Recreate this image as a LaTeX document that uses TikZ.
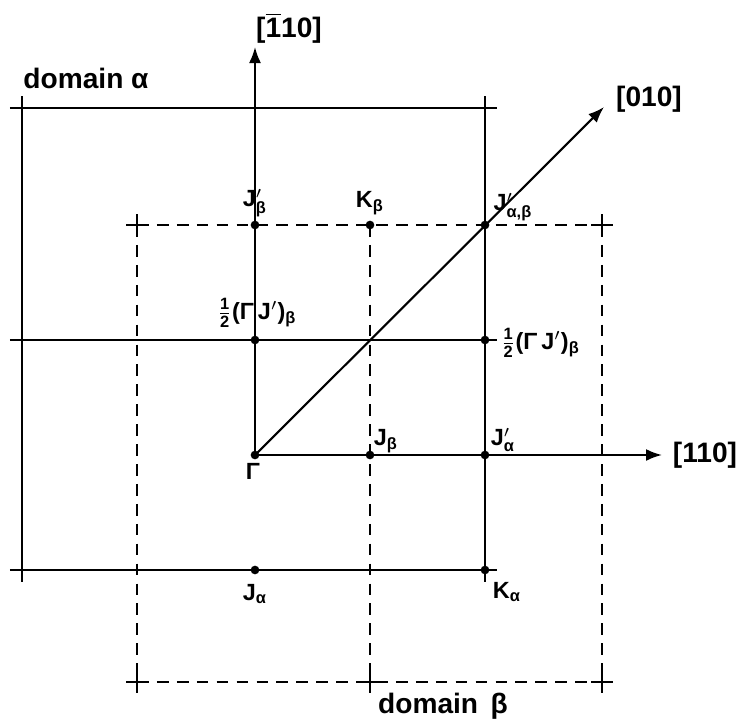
\documentclass[tikz,border=0pt]{standalone}
\usepackage{amsmath}
\usepackage{fontspec}
\setmainfont{Liberation Sans}
\usetikzlibrary{arrows.meta}
\tikzset{
  lbl/.style={font=\bfseries\fontsize{10}{12}\selectfont, inner sep=1pt},
  big/.style={font=\bfseries\fontsize{12}{14}\selectfont, inner sep=1pt},
  dot/.style={circle, fill=black, inner sep=0pt, minimum size=1.3mm},
  solidline/.style={line width=0.9pt},
  ext/.style={solidline, shorten <=-0.18cm, shorten >=-0.18cm},
  dashline/.style={line width=0.9pt, dash pattern=on 5pt off 3.5pt},
  axis/.style={line width=0.9pt, -{Latex[length=2.4mm,width=1.8mm]}},
  plus/.style={line width=0.9pt}
}

\begin{document}
\begin{tikzpicture}[x=0.015cm, y=-0.015cm]
  \useasboundingbox (0,0) rectangle (737,728);

  % Corners of the two domains
  \coordinate (a1) at (22,108);
  \coordinate (a2) at (485,108);
  \coordinate (a3) at (485,570);
  \coordinate (a4) at (22,570);
  \coordinate (m1) at (22,340);
  \coordinate (b1) at (137,225);
  \coordinate (b2) at (602,225);
  \coordinate (b3) at (602,682);
  \coordinate (b4) at (137,682);
  \coordinate (bm) at (370,682);
  \coordinate (ytip) at (255,47);
  \coordinate (xtip) at (662,455);
  \coordinate (dtip) at (604,107);

  % Points
  \node[dot] (Jpb) at (255,225) {};
  \node[dot] (Kb) at (370,225) {};
  \node[dot] (Jpab) at (485,225) {};
  \node[dot] (hl) at (255,340) {};
  \node[dot] (hr) at (485,340) {};
  \node[dot] (G) at (255,455) {};
  \node[dot] (Jb) at (370,455) {};
  \node[dot] (Jpa) at (485,455) {};
  \node[dot] (Ja) at (255,570) {};
  \node[dot] (Ka) at (485,570) {};

  % Domain alpha (solid)
  \draw[ext] (a1) -- (a2);
  \draw[ext] (a1) -- (a4);
  \draw[ext] (a4) -- (a3);
  \draw[ext] (a2) -- (a3);
  \draw[ext] (m1) -- (hr.center);

  % Domain beta (dashed)
  \draw[dashline] (b1) -- (b2);
  \draw[dashline] (b2) -- (b3);
  \draw[dashline] (b4) -- (b3);
  \draw[dashline] (b1) -- (b4);
  \draw[dashline] (Kb.center) -- (bm);
  \foreach \c in {b1,b2,b3,b4,bm}
    \draw[plus] (\c) +(-11,0) -- +(11,0) (\c) +(0,-11) -- +(0,11);

  % Axes
  \draw[axis] (G.center) -- (ytip);
  \draw[axis] (G.center) -- (xtip);
  \draw[axis] (G.center) -- (dtip);

  % Labels
  \node[big] (ly) at (289,28) {[$\overline{\text{1}}$10]};
  \node[big] (lx) at (705,455) {[110]};
  \node[big] (ld) at (649,99) {[010]};
  \node[big] (la) at (86,78) {domain α};
  \node[big] (lb) at (443,706) {domain \,β};

  \node[lbl] at (255,203) {J$^{\prime}_{\text{β}}$};
  \node[lbl] at (370,203) {K$_{\text{β}}$};
  \node[lbl] at (513,207) {J$^{\prime}_{\text{α,β}}$};
  \node[lbl] at (257,313) {$\frac{\text{1}}{\text{2}}$(Γ\,J$^{\prime}$)$_{\text{β}}$};
  \node[lbl, anchor=west] at (498,343) {$\frac{\text{1}}{\text{2}}$(Γ\,J$^{\prime}$)$_{\text{β}}$};
  \node[lbl] at (386,441) {J$_{\text{β}}$};
  \node[lbl] at (503,440) {J$^{\prime}_{\text{α}}$};
  \node[lbl] at (253,471) {Γ};
  \node[lbl] at (255,594) {J$_{\text{α}}$};
  \node[lbl] at (507,592) {K$_{\text{α}}$};
\end{tikzpicture}
\end{document}
